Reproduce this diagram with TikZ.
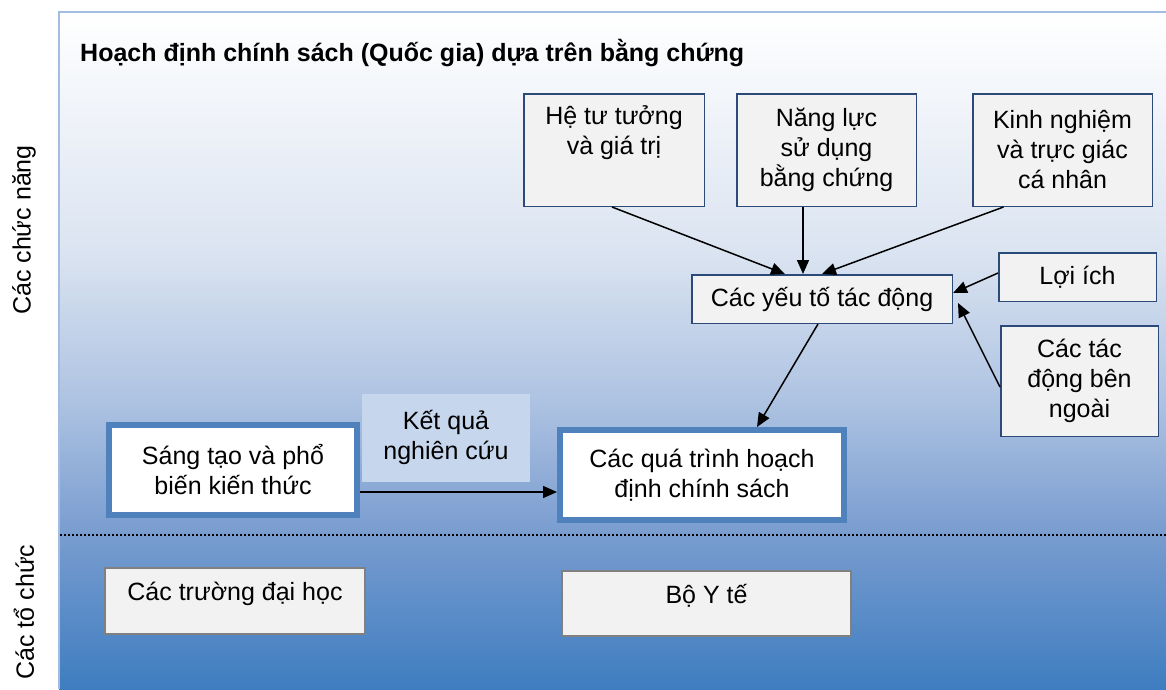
\documentclass[tikz,border=0pt]{standalone}
\usepackage{fontspec}
\setmainfont{Liberation Sans}
\usetikzlibrary{arrows.meta,calc}
\definecolor{sh0}{HTML}{3E7DC0}
\definecolor{sh1}{HTML}{7A9DD0}
\definecolor{sh2}{HTML}{AEC3E2}
\definecolor{sh3}{HTML}{DBE4F1}
\definecolor{panelborder}{HTML}{A3BDE0}
\definecolor{boxblue}{HTML}{2C4A77}
\definecolor{boxgray}{HTML}{F2F2F2}
\definecolor{thickblue}{HTML}{4F81BD}
\definecolor{orggray}{HTML}{808080}
\definecolor{kqfill}{HTML}{C6D6EC}
\pgfdeclareverticalshading{panelshade}{100bp}{color(0bp)=(sh0); color(25bp)=(sh0); color(36.74bp)=(sh1); color(46.34bp)=(sh2); color(57.42bp)=(sh3); color(75bp)=(white); color(100bp)=(white)}
\tikzset{
  gbox/.style={draw=boxblue, line width=1.5pt, fill=boxgray, align=center, inner sep=0pt},
  tbox/.style={draw=thickblue, line width=6pt, fill=white, align=center, inner sep=0pt},
  obox/.style={draw=orggray, line width=2pt, fill=boxgray, align=center, inner sep=0pt},
  kqbox/.style={fill=kqfill, align=center, inner sep=0pt},
  arr/.style={line width=1.5pt, -{Triangle[length=14pt,width=12pt]}},
  sidelabel/.style={rotate=90, inner sep=0pt}
}
\begin{document}
\begin{tikzpicture}[x=1pt, y=-1pt, font=\fontsize{25}{30}\selectfont]
\useasboundingbox (0,0) rectangle (1166,689);
% panel
\shade[shading=panelshade] (59,12) rectangle (1166,689);
\draw[panelborder, line width=2.5pt] (59,689) -- (59,12) -- (1166,12);
% separator
\draw[line width=1.5pt, dash pattern=on 1.5pt off 2.5pt] (60,535) -- (1166,535);

% title and side labels
\node[anchor=base west, inner sep=0pt, font=\fontsize{25}{30}\selectfont\bfseries] (title) at (80,61) {Hoạch định chính sách (Quốc gia) dựa trên bằng chứng};
\node[sidelabel] (lblfun) at (24,230) {Các chức năng};
\node[sidelabel] (lblorg) at (24,612) {Các tổ chức};

% upper boxes
\node[gbox, minimum width=180.5pt, minimum height=112.5pt] (he) at (614,150) {Hệ tư tưởng\\và giá trị\\\strut};
\node[gbox, minimum width=179.5pt, minimum height=112.5pt] (nl) at (826.5,150) {Năng lực\\sử dụng\\bằng chứng};
\node[gbox, minimum width=179.5pt, minimum height=112.5pt] (kn) at (1062.5,150) {Kinh nghiệm\\và trực giác\\cá nhân};
\node[gbox, minimum width=260.5pt, minimum height=48.5pt] (yt) at (822,299) {Các yếu tố tác động};
\node[gbox, minimum width=157.5pt, minimum height=48.5pt] (li) at (1077.5,277) {Lợi ích};
\node[gbox, minimum width=157.5pt, minimum height=110.5pt] (ext) at (1079.5,381) {Các tác\\động bên\\ngoài};

% process boxes
\node[tbox, minimum width=248pt, minimum height=90pt] (st) at (233,470) {Sáng tạo và phổ\\biến kiến thức};
\node[kqbox, minimum width=168pt, minimum height=88pt] (kq) at (446,438) {\raisebox{20pt}{\begin{tabular}{@{}c@{}}Kết quả\\nghiên cứu\end{tabular}}};
\node[tbox, minimum width=284pt, minimum height=90pt] (qt) at (702,475) {Các quá trình hoạch\\định chính sách};

% organisations
\node[obox, minimum width=260pt, minimum height=66pt] (dh) at (235,601) {\raisebox{20pt}{Các trường đại học}};
\node[obox, minimum width=289pt, minimum height=65pt] (byt) at (706.5,603.5) {\raisebox{20pt}{Bộ Y tế}};

% connectors
\draw[arr] ([xshift=-2pt]he.south) -- ([xshift=-37pt]yt.north);
\draw[arr] ([xshift=-19pt]yt.north |- nl.south) -- ([xshift=-19pt]yt.north);
\draw[arr] ([xshift=-59pt]kn.south) -- (yt.north);
\draw[arr] ([yshift=4pt]li.west) -- ([yshift=6pt]yt.east);
\draw[arr] ([yshift=-6pt]ext.west) -- ([shift={(5pt,-4pt)}]yt.east);
\draw[arr] ([xshift=-4pt]yt.south) -- ([xshift=55pt]qt.north);
\draw[arr] ([yshift=-22pt]st.east) -- ([yshift=-22pt]st.east -| qt.west);
\end{tikzpicture}
\end{document}
